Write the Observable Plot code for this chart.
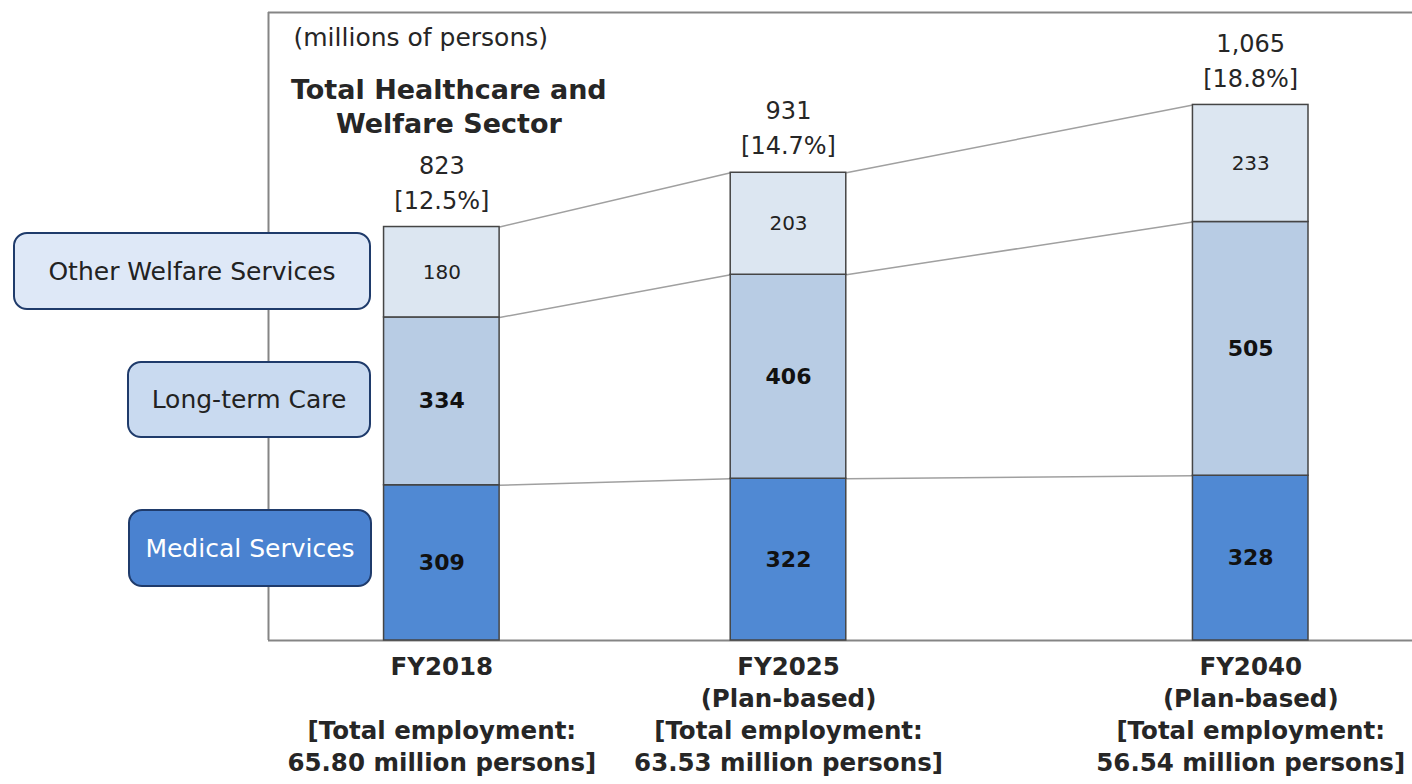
<!DOCTYPE html>
<html><head><meta charset="utf-8">
<script src="https://cdn.jsdelivr.net/npm/d3@7"></script>
<script src="https://cdn.jsdelivr.net/npm/@observablehq/plot@0.6"></script>
<style>
body{margin:0;background:#fff;overflow:hidden;font-family:"DejaVu Sans",sans-serif;}
#wrap{position:relative;width:1412px;height:784px;}
.lg{position:absolute;box-sizing:border-box;border:2.5px solid #1f3b6b;border-radius:14px;display:flex;align-items:center;justify-content:center;font-size:25px;color:#222;}
</style></head><body><div id="wrap"></div>
<script>
// ---- data ----
const categories = ["FY2018", "FY2025", "FY2040"];
const subLabels = ["", "(Plan-based)", "(Plan-based)"];
const employment = ["65.80", "63.53", "56.54"];
const series = ["Medical Services", "Long-term Care", "Other Welfare Services"];
const medical = [309, 322, 328];
const longTermCare = [334, 406, 505];
const otherWelfare = [180, 203, 233];
const totalLabels = ["823", "931", "1,065"];
const shareLabels = ["12.5%", "14.7%", "18.8%"];
const unitLabel = "(millions of persons)";
const sectorTitle = "Total Healthcare and\nWelfare Sector";

// ---- layout (uneven category spacing, in slot units of the x scale) ----
const slots = [1.5, 4.5, 8.5];
const half = 0.5;

const values = [medical, longTermCare, otherWelfare];
const rows = [];
const cums = categories.map(() => []);
categories.forEach((c, i) => {
  let acc = 0;
  series.forEach((s, k) => {
    const v = values[k][i];
    rows.push({cat: c, slot: slots[i], series: s, k, value: v, y1: acc, y2: acc + v});
    acc += v;
    cums[i].push(acc);
  });
});
const links = [];
for (let i = 0; i < categories.length - 1; i++) {
  series.forEach((s, k) => {
    links.push({x1: slots[i] + half, x2: slots[i + 1] - half, y1: cums[i][k], y2: cums[i + 1][k]});
  });
}
const totals = categories.map((c, i) => ({slot: slots[i], top: cums[i][series.length - 1], total: totalLabels[i], share: shareLabels[i]}));
const xLabels = categories.map((c, i) => ({slot: slots[i], text: `${c}\n${subLabels[i]}\n[Total employment:\n${employment[i]} million persons]`}));

const ink = "#262626";
const chart = Plot.plot({
  width: 1412, height: 784,
  marginLeft: 268, marginRight: 0, marginTop: 12, marginBottom: 144,
  x: {type: "linear", domain: [0, 9.9], axis: null},
  y: {domain: [0, 1250], axis: null},
  color: {domain: series, range: ["#5089d3", "#b8cce4", "#dce6f1"]},
  style: {fontFamily: "'DejaVu Sans', sans-serif", background: "#fff"},
  marks: [
    Plot.ruleY([0, 1250], {stroke: "#858585", strokeWidth: 2}),
    Plot.ruleX([0], {stroke: "#858585", strokeWidth: 2}),
    Plot.link(links, {x1: "x1", x2: "x2", y1: "y1", y2: "y2", stroke: "#a0a0a0", strokeWidth: 1.5}),
    Plot.rect(rows, {x1: d => d.slot - half, x2: d => d.slot + half, y1: "y1", y2: "y2", fill: "series", stroke: "#454545", strokeWidth: 1.5}),
    Plot.text(rows.filter(d => d.k < 2), {x: "slot", y: d => (d.y1 + d.y2) / 2, text: d => String(d.value), fontSize: 22, fontWeight: "bold", fill: "#111"}),
    Plot.text(rows.filter(d => d.k === 2), {x: "slot", y: d => (d.y1 + d.y2) / 2, text: d => String(d.value), fontSize: 20, fill: "#222"}),
    Plot.text(totals, {x: "slot", y: "top", text: "total", dy: -61, fontSize: 24, fill: ink}),
    Plot.text(totals, {x: "slot", y: "top", text: d => `[${d.share}]`, dy: -26, fontSize: 24, fill: ink}),
    Plot.text(xLabels, {x: "slot", text: "text", frameAnchor: "bottom", lineAnchor: "top", dy: 12, fontSize: 24.5, fontWeight: "bold", lineHeight: 1.3, fill: ink}),
    Plot.text([sectorTitle], {x: () => slots[0], text: d => d, frameAnchor: "top", lineAnchor: "top", dy: 62, dx: 7, fontSize: 27, fontWeight: "bold", lineHeight: 1.26, fill: ink}),
    Plot.text([unitLabel], {text: d => d, frameAnchor: "top-left", textAnchor: "start", lineAnchor: "middle", dx: 25, dy: 25, fontSize: 25, fill: ink})
  ]
});
const wrap = document.getElementById("wrap");
wrap.appendChild(chart);

// legend boxes (series names) over the left edge of the frame
const legendFill = {"Other Welfare Services": "#dee8f7", "Long-term Care": "#c9daf0", "Medical Services": "#4a82d0"};
const legendBox = {
  "Other Welfare Services": {left: 13, top: 232, width: 358, height: 78},
  "Long-term Care": {left: 127, top: 361, width: 244, height: 77},
  "Medical Services": {left: 128, top: 509, width: 244, height: 78}
};
[...series].reverse().forEach(s => {
  const b = legendBox[s];
  const d = document.createElement("div");
  d.className = "lg";
  d.textContent = s;
  Object.assign(d.style, {left: b.left + "px", top: b.top + "px", width: b.width + "px", height: b.height + "px", background: legendFill[s], color: s === "Medical Services" ? "#fff" : "#222"});
  wrap.appendChild(d);
});
</script></body></html>
